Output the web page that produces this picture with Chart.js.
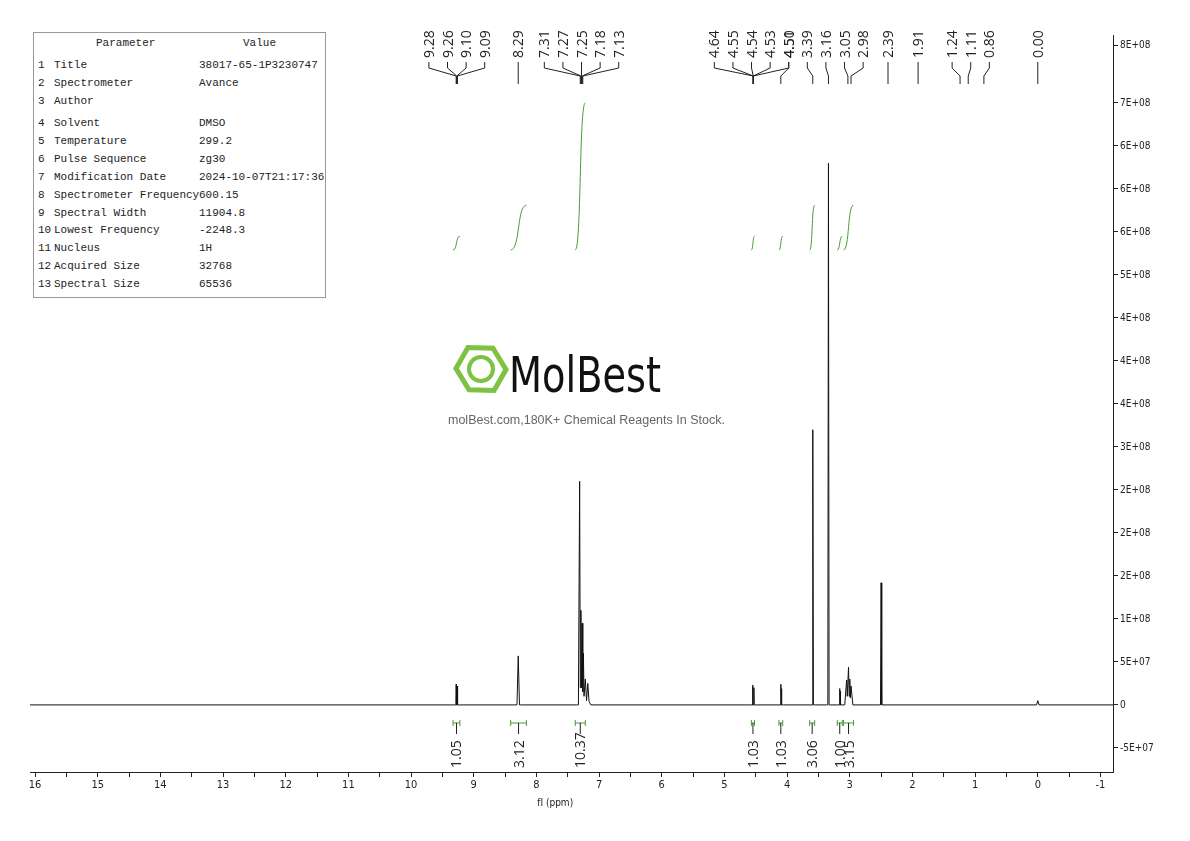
<!DOCTYPE html>
<html><head><meta charset="utf-8">
<script src="https://cdn.jsdelivr.net/npm/chart.js@4.4.1/dist/chart.umd.min.js"></script>
<style>
html,body{margin:0;padding:0;background:#fff;width:1190px;height:841px;overflow:hidden}
#wrap{position:relative;width:1190px;height:841px}
canvas{position:absolute;left:0;top:0}
#tbl{position:absolute;left:33px;top:32px;width:291px;height:264px;border:1px solid #999;font-family:"Liberation Mono","DejaVu Sans Mono",monospace;font-size:11px;color:#222;background:#fff}
#tbl div{position:absolute;white-space:pre}
#logo{position:absolute;left:452px;top:340px;width:300px;height:100px;pointer-events:none}
</style></head><body>
<div id="wrap">
<canvas id="c" width="1190" height="841"></canvas>
<div id="tbl"></div>
<div id="logo">
<svg width="300" height="60" viewBox="0 0 300 60">
<polygon points="29,5 51,17 51,41 29,53 7,41 7,17" fill="none" stroke="#7dc242" stroke-width="5" transform="rotate(30 29 29)"/>
<ellipse cx="29" cy="29" rx="12" ry="12" fill="none" stroke="#7dc242" stroke-width="4"/>
<text x="57" y="52" font-family="DejaVu Sans Condensed, Liberation Sans Narrow, sans-serif" font-size="50" textLength="152" lengthAdjust="spacingAndGlyphs" fill="#111">MolBest</text>
</svg>
<div style="position:absolute;left:-4px;top:73px;font-family:'Liberation Sans',Arial,sans-serif;font-size:12.5px;color:#666;white-space:nowrap">molBest.com,180K+ Chemical Reagents In Stock.</div>
</div>
</div>
<script>
// ---- data ----
const tableParams = ["Title","Spectrometer","Author","Solvent","Temperature","Pulse Sequence","Modification Date","Spectrometer Frequency","Spectral Width","Lowest Frequency","Nucleus","Acquired Size","Spectral Size"];
const tableValues = ["38017-65-1P3230747","Avance","","DMSO","299.2","zg30","2024-10-07T21:17:36","600.15","11904.8","-2248.3","1H","32768","65536"];

const specPpm = [16.08, 9.31,9.285,9.28,9.275,9.265,9.26,9.255,9.23, 8.34,8.31,8.29,8.27,8.24,
 7.36,7.33,7.31,7.30,7.29,7.28,7.27,7.26,7.25,7.24,7.22,7.20,7.18,7.16,7.13,
 4.58,4.555,4.55,4.545,4.535,4.53,4.525,4.50, 4.13,4.105,4.10,4.095,4.09,4.085,4.06,
 3.62,3.60,3.59,3.58,3.56, 3.37,3.35,3.34,3.33,3.31,
 3.19,3.165,3.16,3.155,3.15,3.145,3.12, 3.08,3.05,3.04,3.02,3.01,3.00,2.99,2.98,2.95,
 2.53,2.51,2.50,2.49,2.47, 0.02,0.00,-0.02, -1.2];
const specInt = [0, 0,0,2.4e7,0,0,2.2e7,0,0, 0,0,5.7e7,0,0,
 0,0,2.6e8,2e7,1.1e8,2e7,9.5e7,1.5e7,6e7,1e7,3e7,5e6,2.5e7,4e6,0,
 0,0,2.3e7,0,0,2.0e7,0,0, 0,0,2.4e7,0,1.9e7,0,0,
 0,0,3.2e8,0,0, 0,0,6.3e8,0,0,
 0,0,1.9e7,0,1.6e7,0,0, 0,2.9e7,1e7,4.4e7,1e7,3.0e7,8e6,2.2e7,0,
 0,0,1.42e8,0,0, 0,5e6,0, 0];

const peakLabels = ["9.28","9.26","9.10","9.09","8.29","7.31","7.27","7.25","7.18","7.13","4.64","4.55","4.54","4.53","4.51","4.50","3.39","3.16","3.05","2.98","2.39","1.91","1.24","1.11","0.86","0.00"];
const peakTargets = [9.28,9.27,9.27,9.26,8.29,7.30,7.29,7.28,7.27,7.26,4.54,4.54,4.54,4.54,4.54,4.10,3.59,3.34,3.03,2.98,2.39,1.91,1.24,1.11,0.86,0.00];

// integrals: [from ppm, to ppm, start value, end value]
const integFrom = [9.33,8.41,7.38,4.57,4.13,3.64,3.20,3.10];
const integTo   = [9.22,8.16,7.22,4.52,4.07,3.56,3.12,2.94];
const integLow  = [5.29e8,5.29e8,5.29e8,5.29e8,5.29e8,5.29e8,5.29e8,5.29e8];
const integHigh = [5.45e8,5.81e8,7.0e8,5.45e8,5.45e8,5.81e8,5.45e8,5.81e8];
const integValues = ["1.05","3.12","10.37","1.03","1.03","3.06","1.00","3.15"];

const yTickValues = [-5e7,0,5e7,1e8,1.5e8,2e8,2.5e8,3e8,3.5e8,4e8,4.5e8,5e8,5.5e8,6e8,6.5e8,7e8,7.67e8];
const yTickLabels = ["-5E+07","0","5E+07","1E+08","2E+08","2E+08","2E+08","3E+08","4E+08","4E+08","4E+08","5E+08","6E+08","6E+08","6E+08","7E+08","8E+08"];
const xTickLabels = ["16","15","14","13","12","11","10","9","8","7","6","5","4","3","2","1","0","-1"];

// table
const tbl = document.getElementById('tbl');
function addT(txt,x,y){const d=document.createElement('div');d.textContent=txt;d.style.left=x+'px';d.style.top=y+'px';tbl.appendChild(d);}
addT("Parameter",62,4); addT("Value",209,4);
const rowY=[26,44,62,84,102,120,138,156,174,191,209,227,245];
tableParams.forEach((p,i)=>{addT(String(i+1),4,rowY[i]);addT(p,20,rowY[i]);addT(tableValues[i],165,rowY[i]);});

const condensed = "'DejaVu Sans Condensed','Liberation Sans Narrow',sans-serif";

const overlay = {
 id:'overlay',
 afterDatasetsDraw(chart){
  const ctx=chart.ctx, xs=chart.scales.x, ys=chart.scales.y;
  ctx.save();
  // integral curves
  ctx.strokeStyle='#4a9a3a'; ctx.lineWidth=1;
  for(let i=0;i<integFrom.length;i++){
   const x1=xs.getPixelForValue(integFrom[i]), x2=xs.getPixelForValue(integTo[i]);
   const y1=ys.getPixelForValue(integLow[i]), y2=ys.getPixelForValue(integHigh[i]);
   ctx.beginPath(); ctx.moveTo(x1,y1);
   ctx.bezierCurveTo(x1+(x2-x1)*0.6,y1,x1+(x2-x1)*0.4,y2,x2,y2); ctx.stroke();
  }
  // brackets
  const by=ys.getPixelForValue(-2.1e7);
  ctx.font="14px 'Open Sans',sans-serif"; ctx.fillStyle='#222';
  for(let i=0;i<integFrom.length;i++){
   const x1=xs.getPixelForValue(integFrom[i]), x2=xs.getPixelForValue(integTo[i]);
   const xm=(x1+x2)/2;
   ctx.strokeStyle='#4a9a3a';
   ctx.beginPath(); ctx.moveTo(x1,by);ctx.lineTo(x2,by);
   ctx.moveTo(x1,by-3);ctx.lineTo(x1,by+3);ctx.moveTo(x2,by-3);ctx.lineTo(x2,by+3);
   ctx.stroke();
   ctx.strokeStyle='#222'; ctx.beginPath(); ctx.moveTo(xm,by);ctx.lineTo(xm,by+11);ctx.stroke();
   ctx.save(); ctx.translate(xm+5,768); ctx.rotate(-Math.PI/2);
   ctx.textAlign='left'; ctx.fillText(integValues[i],0,0); ctx.restore();
  }
  // x title
  ctx.font="10px "+condensed; ctx.textAlign='center'; ctx.fillText('fI (ppm)',xs.getPixelForValue(7.7),806);
  // peak labels: spread horizontally
  const n=peakLabels.length, px=peakTargets.map(v=>xs.getPixelForValue(v));
  const gapOf=i=>peakLabels[i]==='4.50'?0:18.6; let lx=px.slice();
  for(let it=0;it<300;it++){
   for(let i=1;i<n;i++){ const g=gapOf(i); const diff=lx[i]-lx[i-1];
    if(g===0){ const m=(lx[i]+lx[i-1])/2; lx[i]=lx[i-1]=m; continue; }
    if(diff<g){ const d=(g-diff)/2; lx[i]+=d; lx[i-1]-=d; } }
  }
  ctx.strokeStyle='#222'; ctx.fillStyle='#222'; ctx.font="14px 'Open Sans',sans-serif";
  for(let i=0;i<n;i++){
   ctx.save(); ctx.translate(lx[i]+5,60); ctx.rotate(-Math.PI/2);
   ctx.textAlign='left'; ctx.fillText(peakLabels[i],2,0); ctx.restore();
   ctx.beginPath(); ctx.moveTo(lx[i],62); ctx.lineTo(lx[i],68); ctx.lineTo(px[i],76); ctx.lineTo(px[i],84); ctx.stroke();
  }
  ctx.restore();
 }
};

new Chart(document.getElementById('c'),{
 type:'line',
 data:{datasets:[{data:specPpm.map((x,i)=>({x:x,y:specInt[i]})),borderColor:'#111',borderWidth:1,pointRadius:0,tension:0}]},
 options:{responsive:false,animation:false,
  layout:{padding:{left:30,top:35,right:0,bottom:0}},
  plugins:{legend:{display:false},tooltip:{enabled:false}},
  scales:{
   x:{type:'linear',reverse:true,min:-1.2,max:16.08,
    afterBuildTicks(s){const t=[];for(let v=16;v>=-1;v-=0.5)t.push({value:v});s.ticks=t;},
    afterFit(s){s.height=69;},
    ticks:{autoSkip:false,maxRotation:0,color:'#222',font:{family:condensed,size:11},padding:2,
     callback(v){return Number.isInteger(v)?xTickLabels[16-v]:'';}},
    grid:{drawOnChartArea:false,drawTicks:true,tickLength:5,color:'#222'},
    border:{display:true,color:'#222'}},
   y:{type:'linear',position:'right',min:-7.8e7,max:7.79e8,
    afterBuildTicks(s){s.ticks=yTickValues.map(v=>({value:v}));},
    afterFit(s){s.width=77;},
    ticks:{autoSkip:false,color:'#222',font:{family:condensed,size:10},padding:2,
     callback(v,i){return yTickLabels[i];}},
    grid:{drawOnChartArea:false,tickLength:5,color:'#222'},
    border:{display:true,color:'#222'}}
  }},
 plugins:[overlay]
});
</script>
</body></html>
